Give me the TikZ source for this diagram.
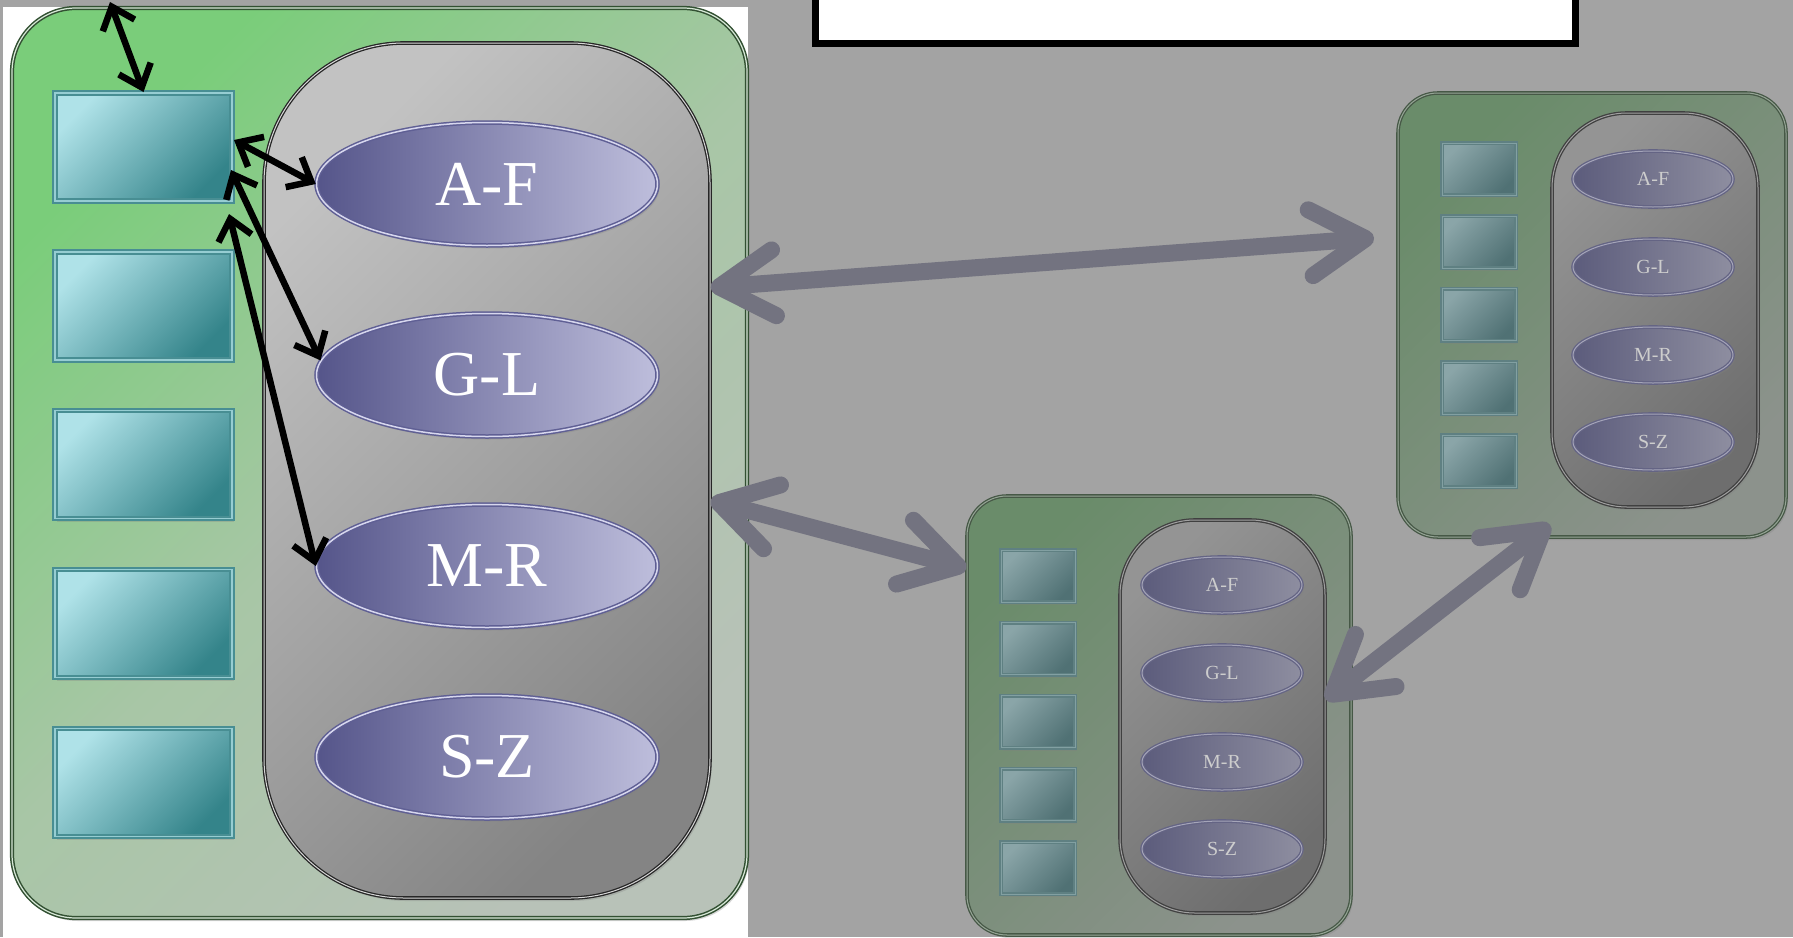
\documentclass[tikz,border=0pt]{standalone}
\usepackage{fontspec}
\setmainfont{Liberation Serif}
\usetikzlibrary{shapes.geometric,arrows.meta,shadows,calc}
\definecolor{bg}{RGB}{163,163,163}
\definecolor{pnlTL}{RGB}{122,205,122}
\definecolor{pnlM}{RGB}{168,198,166}
\definecolor{pnlBR}{RGB}{184,194,184}
\definecolor{pnlB}{RGB}{50,80,50}
\definecolor{pnlI}{RGB}{215,232,215}
\definecolor{pilTL}{RGB}{194,194,194}
\definecolor{pilBR}{RGB}{132,132,132}
\definecolor{pilI}{RGB}{215,215,215}
\definecolor{sqTL}{RGB}{175,226,232}
\definecolor{sqBR}{RGB}{52,132,138}
\definecolor{sqB}{RGB}{72,142,147}
\definecolor{sqI}{RGB}{150,205,210}
\definecolor{elL}{RGB}{85,85,138}
\definecolor{elR}{RGB}{190,190,220}
\definecolor{elB}{RGB}{95,95,148}
\definecolor{elI}{RGB}{215,215,238}
\definecolor{dpnlTL}{RGB}{106,140,106}
\definecolor{dpnlBR}{RGB}{140,146,140}
\definecolor{dpnlB}{RGB}{70,88,70}
\definecolor{dpnlI}{RGB}{150,165,150}
\definecolor{dpilTL}{RGB}{148,148,148}
\definecolor{dpilBR}{RGB}{110,110,110}
\definecolor{dpilI}{RGB}{160,160,160}
\definecolor{dsqTL}{RGB}{138,165,168}
\definecolor{dsqBR}{RGB}{80,113,116}
\definecolor{dsqB}{RGB}{95,128,130}
\definecolor{dsqI}{RGB}{130,160,162}
\definecolor{delL}{RGB}{92,92,124}
\definecolor{delR}{RGB}{142,142,160}
\definecolor{delB}{RGB}{100,100,132}
\definecolor{delI}{RGB}{165,165,185}
\definecolor{dtext}{RGB}{205,205,205}
\definecolor{garr}{RGB}{115,115,128}
\begin{document}
\begin{tikzpicture}[x=1pt,y=-1pt,
  shd/.style={drop shadow={opacity=0.3,shadow xshift=2pt,shadow yshift=-3pt}},
  panelL/.style={rectangle,draw=pnlB,line width=1.5pt,double=pnlI,double distance=1.2pt,
    rounded corners=64pt,top color=pnlTL,bottom color=pnlBR,middle color=pnlM,shading angle=45,inner sep=0,shd},
  pillL/.style={rectangle,draw=black!85,line width=1.3pt,double=pilI,double distance=1pt,
    rounded corners=140pt,top color=pilTL,bottom color=pilBR,shading angle=45,inner sep=0,shd},
  sqL/.style={rectangle,draw=sqB,line width=2pt,double=sqI,double distance=1.2pt,
    top color=sqTL,bottom color=sqBR,shading angle=45,inner sep=0,
    minimum width=177pt,minimum height=108pt,shd},
  elLs/.style={ellipse,draw=elB,line width=1.5pt,double=elI,double distance=1.5pt,
    left color=elL,right color=elR,inner sep=0,minimum width=341pt,minimum height=123pt,
    text=white,font=\fontsize{64}{64}\selectfont,shd},
  panelD/.style={rectangle,draw=dpnlB,line width=1.3pt,double=dpnlI,double distance=1pt,
    rounded corners=40pt,top color=dpnlTL,bottom color=dpnlBR,shading angle=45,inner sep=0,shd},
  pillD/.style={rectangle,draw=black!75,line width=1.3pt,double=dpilI,double distance=1pt,
    rounded corners=75pt,top color=dpilTL,bottom color=dpilBR,shading angle=45,inner sep=0,shd},
  sqD/.style={rectangle,draw=dsqB,line width=1.5pt,double=dsqI,double distance=1pt,
    top color=dsqTL,bottom color=dsqBR,shading angle=45,inner sep=0,
    minimum width=74pt,minimum height=52pt,shd},
  elD/.style={ellipse,draw=delB,line width=1.3pt,double=delI,double distance=1pt,
    left color=delL,right color=delR,inner sep=0,minimum width=160pt,minimum height=56pt,
    text=dtext,font=\fontsize{20}{20}\selectfont,shd},
  titlebox/.style={rectangle,draw=black,line width=7pt,fill=white,inner sep=0,
    minimum width=760pt,minimum height=74pt,
    drop shadow={opacity=0.35,shadow xshift=2pt,shadow yshift=-3pt}},
  blk/.style={line width=6.5pt,draw=black,
    {Straight Barb[length=20pt,width=34pt]}-{Straight Barb[length=20pt,width=34pt]}},
  garrow/.style={line width=17pt,draw=garr,line cap=round,
    {Straight Barb[round,length=55pt,width=66pt]}-{Straight Barb[round,length=55pt,width=66pt]}}
]
\useasboundingbox (0,0) rectangle (1793,937);
\clip (0,0) rectangle (1793,937);
\fill[bg] (0,0) rectangle (1793,937);
\fill[white] (3,7) rectangle (748,937);

% title box
\node[titlebox] (title) at (1195.5,6.5) {};

% left (main) panel
\node[panelL,minimum width=735pt,minimum height=910pt] (lp) at (379.5,463) {};
\node[pillL,minimum width=446pt,minimum height=855pt] (pillL) at (487,470.5) {};
\foreach \i/\y in {1/147,2/306,3/464.5,4/623.5,5/782.5}
  \node[sqL] (s\i) at (143.5,\y) {};
\node[elLs] (e1) at (487,184) {A-F};
\node[elLs] (e2) at (487,375) {G-L};
\node[elLs] (e3) at (487,566) {M-R};
\node[elLs] (e4) at (487,757) {S-Z};

% middle panel
\node[panelD,minimum width=384pt,minimum height=439pt] (mp) at (1159,715.5) {};
\node[pillD,minimum width=205pt,minimum height=393pt] (mpill) at (1222.5,716.5) {};
\foreach \i/\y in {1/576,2/648.5,3/721.5,4/794.5,5/868}
  \node[sqD] (ms\i) at (1038,\y) {};
\node[elD] (me1) at (1222,585) {A-F};
\node[elD] (me2) at (1222,673) {G-L};
\node[elD] (me3) at (1222,762) {M-R};
\node[elD] (me4) at (1222,849) {S-Z};

% right panel
\node[panelD,minimum width=388pt,minimum height=444pt] (rp) at (1592,315) {};
\node[pillD,minimum width=206pt,minimum height=394pt] (rpill) at (1655,310) {};
\foreach \i/\y in {1/169,2/242,3/314.5,4/388,5/461}
  \node[sqD] (rs\i) at (1479,\y) {};
\node[elD] (re1) at (1653,179) {A-F};
\node[elD] (re2) at (1653,267) {G-L};
\node[elD] (re3) at (1653,355) {M-R};
\node[elD] (re4) at (1653,442) {S-Z};

% black arrows
\coordinate (top) at (110,2);
\draw[blk] (top) -- (s1.north);
\draw[blk] ($(s1.east)+(1,-7)$) -- (e1.west);
\draw[blk] ($(s1.east)+(-2,23)$) -- (e2.175);
\draw[blk] ($(s1.south east)+(-4,12)$) -- (e3.west);

% grey arrows
\coordinate (tA) at (1374,238);
\draw[garrow] ($(pillL.east)+(0,-183)$) -- (tA);
\draw[garrow] ($(pillL.east)+(0,30)$) -- ($(mp.west)+(0,-147)$);
\draw[garrow] ($(mpill.east)+(0,-17)$) -- ($(rp.south)+(-42,-13)$);
\end{tikzpicture}
\end{document}
